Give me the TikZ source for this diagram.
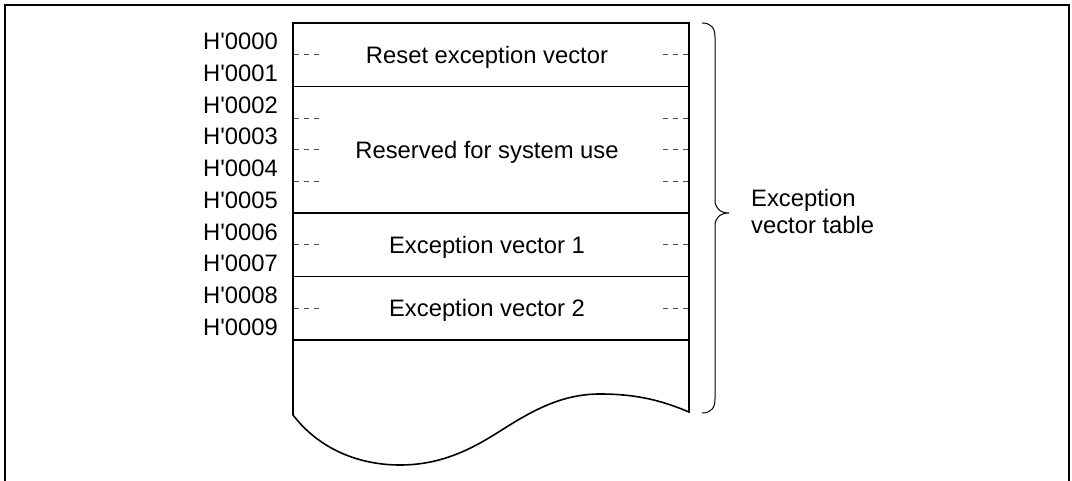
\documentclass[tikz,border=0pt]{standalone}
\usepackage{fontspec}
\setmainfont{Liberation Sans}
\begin{document}
\begin{tikzpicture}[x=1pt,y=-1pt,
  lbl/.style={inner sep=0pt,font=\fontsize{23.8}{27}\selectfont},
  addr/.style={lbl,anchor=base east},
  rowtxt/.style={lbl,anchor=base},
  tbl/.style={line width=1.6pt,line join=miter},
  gap/.style={line width=0.8pt,draw=black!70,dash pattern=on 5pt off 5pt},
  frame/.style={line width=2pt}]
\useasboundingbox (0,0) rectangle (1072,481);
% outer frame (open at bottom)
\draw[frame] (5,481) -- (5,5) -- (1069,5) -- (1069,481);
% table outline with wavy bottom
\coordinate (TL) at (293,23);
\coordinate (TR) at (689,23);
\coordinate (BL) at (293,415);
\coordinate (BR) at (689,412);
\draw[tbl] (BL) -- (TL) -- (TR) -- (BR)
  .. controls (665,402) and (640,394) .. (600,394)
  .. controls (560,394) and (530,412) .. (497,433)
  .. controls (470,450) and (440,465) .. (400,465)
  .. controls (360,465) and (320,450) .. (BL);
% row boundaries
\foreach \y in {86.4,213.2,276.6,340} {
  \draw[tbl] (293,\y) -- (689,\y);
}
% dashed marks
\foreach \y in {54.7,118.1,149.8,181.5,244.9,308.3} {
  \draw[gap] (294,\y) -- (322,\y);
  \draw[gap] (688,\y) -- (660,\y);
}
% addresses
\foreach \i/\t in {0/0000,1/0001,2/0002,3/0003,4/0004,5/0005,6/0006,7/0007,8/0008,9/0009} {
  \node[addr] (a\i) at (278,{23+31.7*(\i+0.5)+11}) {H\textquotesingle\t};
}
% row texts
\node[rowtxt] (r0) at (487,63.7) {Reset exception vector};
\node[rowtxt] (r1) at (487,158.4) {Reserved for system use};
\node[rowtxt] (r2) at (487,253.5) {Exception vector 1};
\node[rowtxt] (r3) at (487,316.9) {Exception vector 2};
% brace
\draw[line width=1pt] (702,23) .. controls (711,23) and (715,28) .. (715,37)
  -- (715,200) .. controls (715,208) and (720,213) .. (729,213)
  .. controls (720,213) and (715,218) .. (715,226)
  -- (715,399) .. controls (715,408) and (711,413) .. (702,413);
\node[lbl,anchor=base west] (t1) at (751,207) {Exception};
\node[lbl,anchor=base west] (t2) at (751,234) {vector table};
\end{tikzpicture}
\end{document}
